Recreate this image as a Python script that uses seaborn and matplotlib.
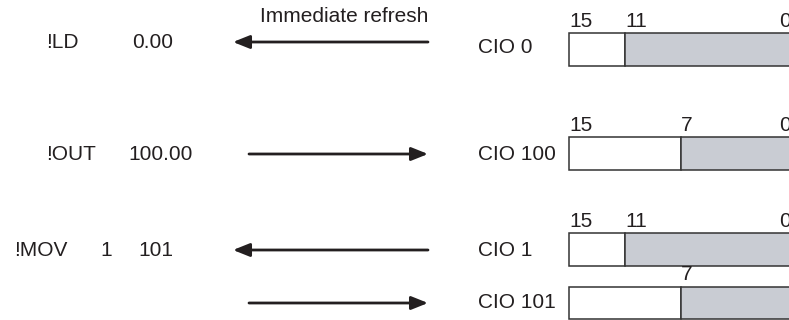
import matplotlib
matplotlib.use("Agg")
import matplotlib.pyplot as plt
import seaborn as sns
from matplotlib.patches import Rectangle, FancyArrowPatch

# diagram content
instructions = ["!LD", "!OUT", "!MOV"]
operands = [["0.00"], ["100.00"], ["1", "101"]]
words = ["CIO 0", "CIO 100", "CIO 1", "CIO 101"]
split_bits = [11, 7, 11, 7]
bit_labels = [[15, 11, 0], [15, 7, 0], [15, 11, 0], [7]]
directions = ["to_cpu", "to_io", "to_cpu", "to_io"]
caption = "Immediate refresh"

sns.set_theme(style="white")
plt.rcParams["font.family"] = ["Liberation Sans", "DejaVu Sans"]

ink = "#231f20"
fill = "#c9ccd3"
fs = 15

fig = plt.figure(figsize=(7.89, 3.20), dpi=100)
ax = fig.add_axes([0, 0, 1, 1])
ax.set_xlim(0, 789)
ax.set_ylim(320, 0)
ax.axis("off")

# layout (pixels)
row_y = [42, 154, 250, 303]
box_y = [49.5, 153.5, 249.5, 303]
box_h = 32.5
box_left = 569
bit_w = 14
word_x = 478
arrow_x = (249, 428)
instr_x = [46, 46, 14]
operand_x = [[132], [128], [100, 138]]


def bit_x(b):
    return box_left + (15 - b) * bit_w


for i, word in enumerate(words):
    y = row_y[i]
    top = box_y[i] - box_h / 2
    # word register box
    split = bit_x(split_bits[i])
    ax.add_patch(Rectangle((box_left, top), split - box_left, box_h,
                           facecolor="white", edgecolor="#333333", lw=1.1))
    ax.add_patch(Rectangle((split, top), bit_x(-1) - split, box_h,
                           facecolor=fill, edgecolor="#333333", lw=1.1))
    for b in bit_labels[i]:
        ax.text(bit_x(b), top - 12, str(b), ha="left", va="center",
                fontsize=fs, color=ink)
    ax.text(word_x, box_y[i] - 2 if i == 0 else y, word, ha="left",
            va="center", fontsize=fs, color=ink)

    # arrow
    if directions[i] == "to_io":
        start, end = arrow_x
    else:
        end, start = arrow_x
        end -= 16
    arr = FancyArrowPatch((start, y), (end, y),
                          arrowstyle="-|>,head_length=0.5,head_width=0.2",
                          mutation_scale=20, lw=2.0, color=ink,
                          shrinkA=0, shrinkB=0)
    ax.add_patch(arr)

for i, ins in enumerate(instructions):
    y = row_y[i] + 1
    ax.text(instr_x[i], y, ins, ha="left", va="center", fontsize=fs, color=ink)
    for op, ox in zip(operands[i], operand_x[i]):
        ax.text(ox, y, op, ha="left", va="center", fontsize=fs, color=ink)

ax.text(arrow_x[1], 17, caption, ha="right", va="center", fontsize=fs, color=ink)

fig.savefig("out.png", dpi=100)
